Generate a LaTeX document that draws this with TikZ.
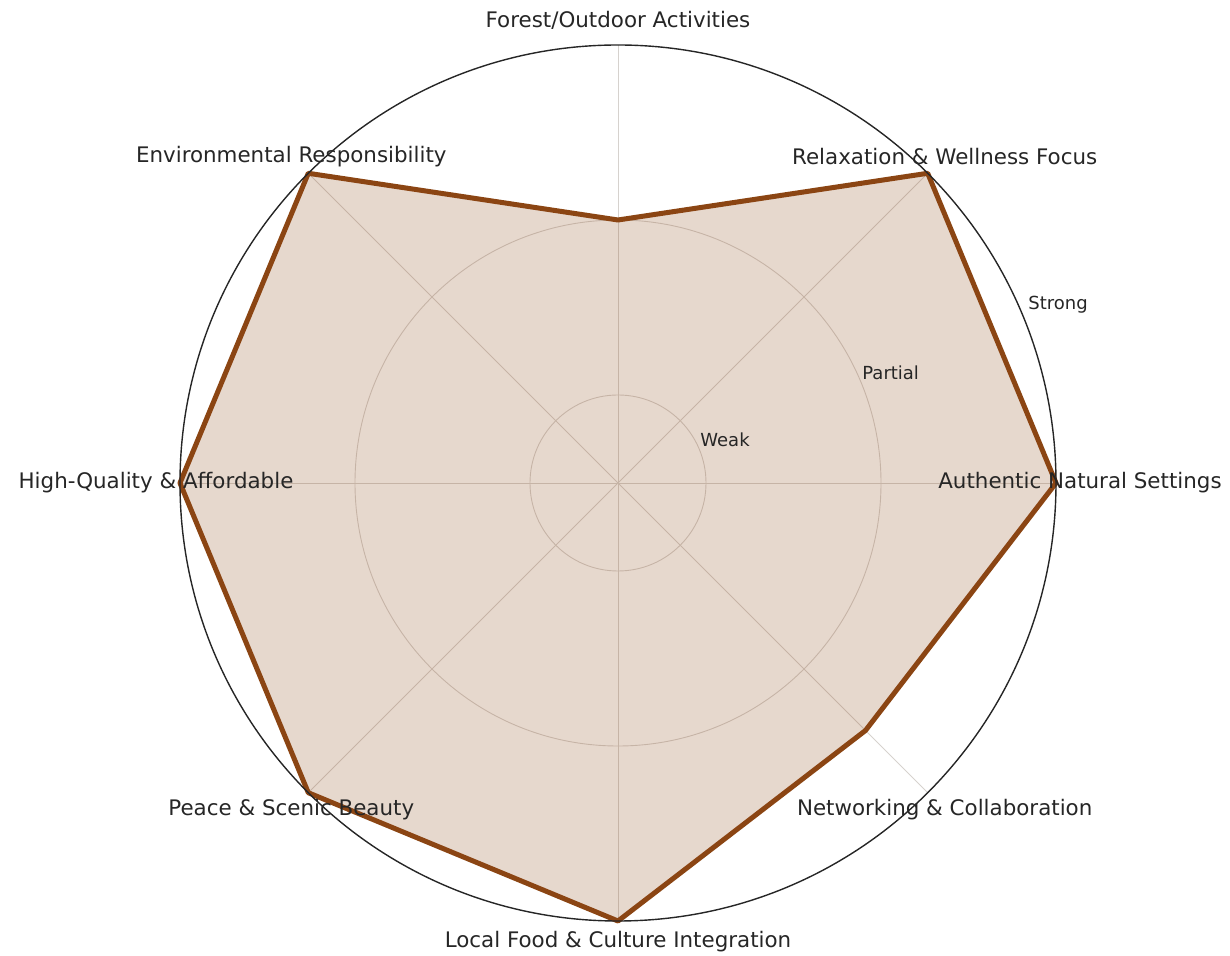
\documentclass[tikz,border=0pt]{standalone}
\usepackage{fontspec}
\setmainfont{DejaVu Sans}
\usetikzlibrary{positioning}
\definecolor{barkbrown}{RGB}{139,69,19}
\definecolor{gridgrey}{RGB}{214,210,206}

\begin{document}
\begin{tikzpicture}[x=0.5pt, y=0.5pt,
        axislabel/.style={text=black!85, font=\fontsize{10.7}{12}\selectfont, inner sep=0pt},
        ringlabel/.style={text=black!85, font=\fontsize{9}{11}\selectfont, inner sep=0pt, anchor=west},
        profile/.style={barkbrown, line width=2.5pt, line join=round, fill=barkbrown, fill opacity=0.21}]
        \useasboundingbox (-618,-473) rectangle (612,483);

        % rings and spokes
        \foreach \r in {88,263}
        { \draw[gridgrey, line width=0.45pt] (0,0) circle (\r);
        };
        \foreach \a in {0,45,...,315}
        { \draw[gridgrey, line width=0.45pt] (0,0) -- (\a:438);
        };

        % score of each axis
        \foreach \a/\r [count=\i] in {0/438,45/438,90/263,135/438,180/438,225/438,270/438,315/350}
        { \coordinate (v\i) at (\a:\r);
        };
        \draw[profile] (v1) -- (v2) -- (v3) -- (v4) -- (v5) -- (v6) -- (v7) -- (v8) -- cycle;

        \draw[black!85, line width=0.7pt] (0,0) circle (438);

        % axis names
        \node[axislabel] (authentic) at (0:462)   {Authentic Natural Settings};
        \node[axislabel] (relax)     at (45:462)  {Relaxation \& Wellness Focus};
        \node[axislabel] (forest)    at (90:463)  {Forest/Outdoor Activities};
        \node[axislabel] (environ)   at (135:462) {Environmental Responsibility};
        \node[axislabel] (quality)   at (180:462) {High-Quality \& Affordable};
        \node[axislabel] (peace)     at (225:462) {Peace \& Scenic Beauty};
        \node[axislabel] (food)      at (270:459) {Local Food \& Culture Integration};
        \node[axislabel] (network)   at (315:462) {Networking \& Collaboration};

        % ring names
        \node[ringlabel] (weak)    at (82,43)   {Weak};
        \node[ringlabel] (partial) at (244,110) {Partial};
        \node[ringlabel] (strong)  at (410,178) {Strong};
\end{tikzpicture}
\end{document}
